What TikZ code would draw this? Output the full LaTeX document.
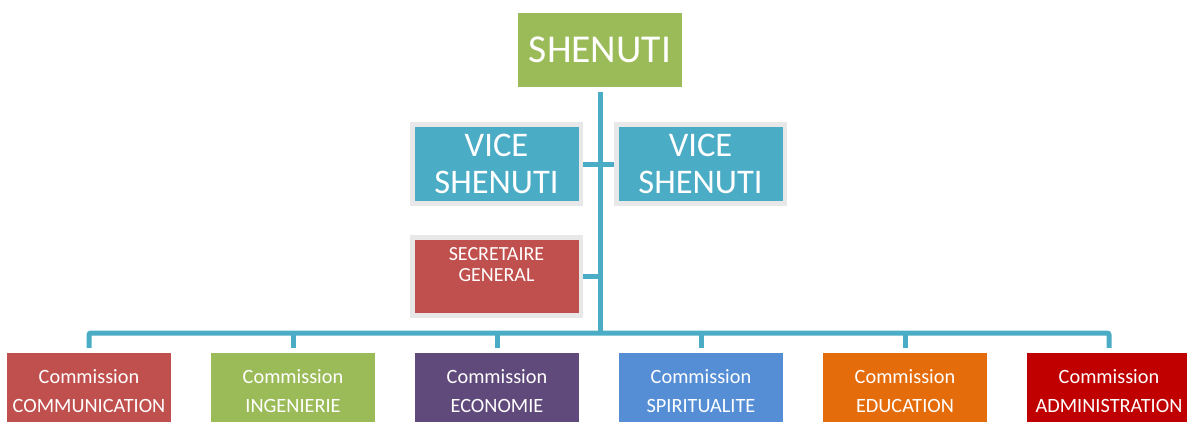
\documentclass[tikz,border=0pt]{standalone}
\usepackage{fontspec}
\setmainfont{Carlito}
\usetikzlibrary{backgrounds}
\definecolor{cgreen}{HTML}{9BBB59}
\definecolor{cblue}{HTML}{4BACC6}
\definecolor{cred}{HTML}{C0504D}
\definecolor{cpurple}{HTML}{604A7B}
\definecolor{cblue2}{HTML}{558ED5}
\definecolor{corange}{HTML}{E46C0A}
\definecolor{cdred}{HTML}{C00000}
\definecolor{cframe}{HTML}{E8E8E8}
\tikzset{
  box/.style={inner sep=0pt, text=white, align=center},
  framed/.style={box, draw=cframe, line width=4.5pt, minimum width=168.5pt, minimum height=79pt},
  combox/.style={box, minimum width=164pt, minimum height=76pt, font=\fontsize{20.3}{29}\selectfont},
  conn/.style={draw=cblue, line width=5pt}
}
\begin{document}
\begin{tikzpicture}[x=1pt,y=-1pt]
\useasboundingbox (0,0) rectangle (1187,421);
\clip (0,0) rectangle (1187,421);
\node[box, fill=cgreen, minimum width=164pt, minimum height=74pt, font=\fontsize{39.5}{44}\selectfont] (top) at (600,50) {SHENUTI};
\node[framed, fill=cblue, font=\fontsize{34.5}{37}\selectfont] (v1) at (496.5,164) {VICE\\SHENUTI};
\node[framed, fill=cblue, font=\fontsize{34.5}{37}\selectfont] (v2) at (700.5,164) {VICE\\SHENUTI};
\node[framed, fill=cred, minimum height=78pt, font=\fontsize{20}{21}\selectfont] (sec) at (496.5,276.5) {SECRETAIRE\\GENERAL\\[-4pt]\strut};
\coordinate (bus) at (600,333);
\node[combox, fill=cred] (c1) at (89,391) {Commission\\COMMUNICATION};
\node[combox, fill=cgreen] (c2) at (293,391) {Commission\\INGENIERIE};
\node[combox, fill=cpurple] (c3) at (497,391) {Commission\\ECONOMIE};
\node[combox, fill=cblue2] (c4) at (701,391) {Commission\\SPIRITUALITE};
\node[combox, fill=corange] (c5) at (905,391) {Commission\\EDUCATION};
\node[combox, fill=cdred] (c6) at (1109,391) {Commission\\ADMINISTRATION};
\begin{scope}[on background layer]
\draw[conn] ([yshift=-5pt]top.south) -- (bus);
\draw[conn] (v1.east) -- (v2.west);
\draw[conn] (sec.east) -- (sec.east -| bus);
\draw[conn, rounded corners=2pt] ([yshift=5pt]c1.north) |- (bus) -| ([yshift=5pt]c6.north);
\foreach \c in {c2,c3,c4,c5} {
  \draw[conn] ([yshift=5pt]\c.north) -- (\c.north |- bus);
}
\end{scope}
\end{tikzpicture}
\end{document}
